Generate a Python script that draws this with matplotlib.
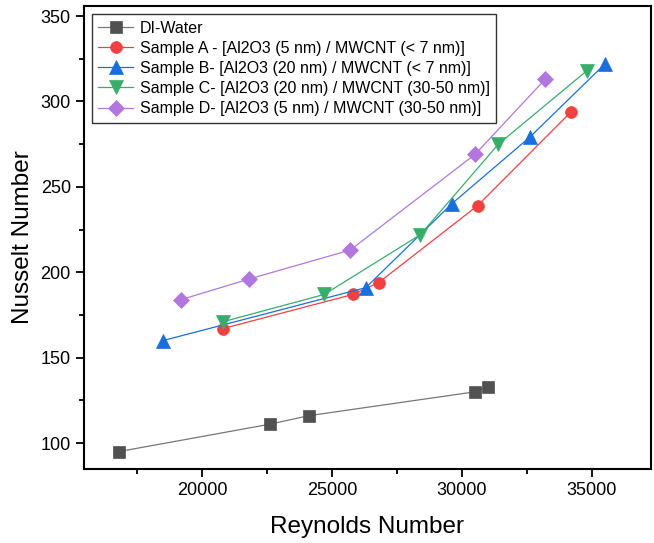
import matplotlib
matplotlib.use("Agg")
import matplotlib.pyplot as plt
from matplotlib.ticker import MultipleLocator

plt.rcParams['font.family'] = ['Liberation Sans', 'DejaVu Sans']

# Data
di_re = [16800, 22600, 24100, 30500, 31000]
di_nu = [95, 111, 116, 130, 133]

a_re = [20800, 25800, 26800, 30600, 34200]
a_nu = [167, 187, 194, 239, 294]

b_re = [18500, 26300, 29600, 32600, 35500]
b_nu = [160, 191, 240, 279, 322]

c_re = [20800, 24700, 28400, 31400, 34800]
c_nu = [171, 187, 222, 275, 318]

d_re = [19200, 21800, 25700, 30500, 33200]
d_nu = [184, 196, 213, 269, 313]

labels = [
    "DI-Water",
    "Sample A - [Al2O3 (5 nm) / MWCNT (< 7 nm)]",
    "Sample B- [Al2O3 (20 nm) / MWCNT (< 7 nm)]",
    "Sample C- [Al2O3 (20 nm) / MWCNT (30-50 nm)]",
    "Sample D- [Al2O3 (5 nm) / MWCNT (30-50 nm)]",
]

fig = plt.figure(figsize=(6.54, 5.43), dpi=100)
ax = fig.add_axes([84/654, 1-469/543, (651-84)/654, (469-6)/543])

series = [
    (di_re, di_nu, '#515151', 's', 8, '#777777'),
    (a_re, a_nu, '#F14040', 'o', 8.5, '#F14040'),
    (b_re, b_nu, '#1A6FDF', '^', 9.5, '#1A6FDF'),
    (c_re, c_nu, '#37AD6B', 'v', 9.5, '#37AD6B'),
    (d_re, d_nu, '#B177DE', 'D', 7.8, '#B177DE'),
]
for (x, y, mc, mk, ms, lc), lab in zip(series, labels):
    ax.plot(x, y, color=lc, lw=0.9, marker=mk, ms=ms, mfc=mc, mec=mc,
            mew=0.5, label=lab)

ax.set_xlim(15460, 37270)
ax.set_ylim(84.8, 355.9)
ax.xaxis.set_major_locator(MultipleLocator(5000))
ax.xaxis.set_minor_locator(MultipleLocator(2500))
ax.yaxis.set_major_locator(MultipleLocator(50))
ax.yaxis.set_minor_locator(MultipleLocator(25))
ax.tick_params(which='major', direction='out', length=6, width=1.3,
               labelsize=13, top=False, right=False)
ax.tick_params(which='minor', direction='out', length=3.5, width=1.3,
               top=False, right=False)
for s in ax.spines.values():
    s.set_linewidth(1.5)

ax.set_xlabel("Reynolds Number", fontsize=17.5, labelpad=12)
ax.set_ylabel("Nusselt Number", fontsize=17.5, labelpad=5)

leg = ax.legend(loc='upper left', bbox_to_anchor=(0.014, 0.982), fontsize=11.5,
                frameon=True, fancybox=False, edgecolor='black',
                handlelength=2.2, handletextpad=0.4, labelspacing=0.32,
                borderpad=0.4, borderaxespad=0)
leg.get_frame().set_linewidth(1.0)

fig.savefig("out.png", dpi=100)
